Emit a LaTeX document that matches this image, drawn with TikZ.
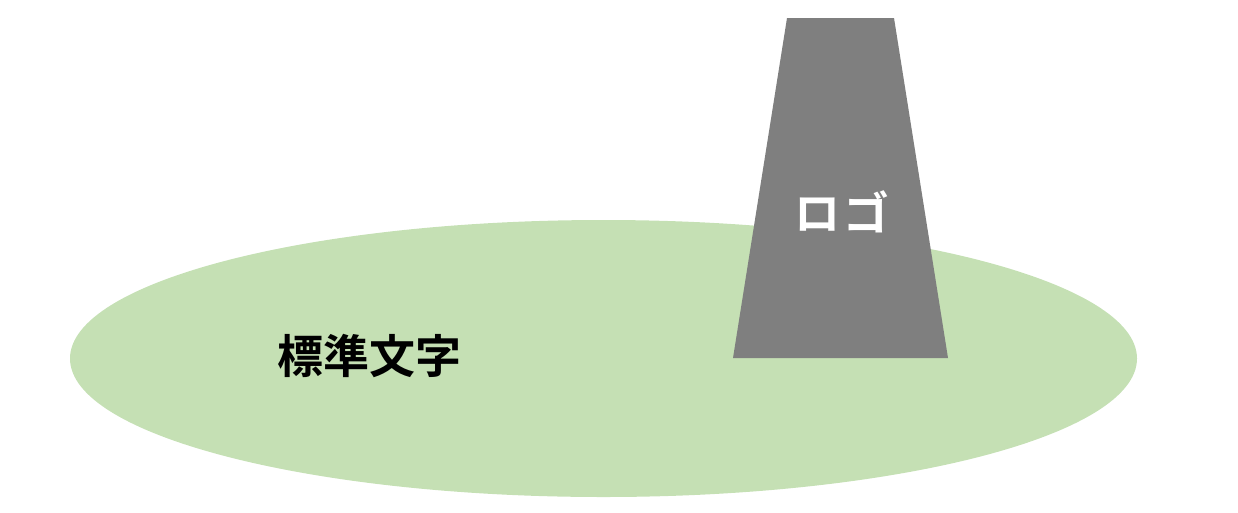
\documentclass[tikz,border=0pt]{standalone}
\usepackage{fontspec}
\newfontfamily\cjk{Noto Sans CJK JP}[BoldFont={Noto Sans CJK JP Bold}]
\definecolor{lawn}{HTML}{C5E0B4}
\definecolor{pole}{HTML}{7F7F7F}
\begin{document}
\begin{tikzpicture}[x=1pt,y=-1pt]
		\tikzset{label/.style = {font=\cjk\bfseries\fontsize{46}{46}\selectfont, inner sep = 0pt}}

		\useasboundingbox (0,0) rectangle (1238,512);

		\fill[lawn] (603.5,358.5) ellipse (533.5 and 138.5);
		\fill[pole] (787,18) -- (894,18) -- (948,358) -- (733,358) -- cycle;

		\node[label] (std) at (369,356) {標準文字};
		\node[label, text=white] (logo) at (842,212) {ロ\kern3ptゴ};

	\end{tikzpicture}
\end{document}
